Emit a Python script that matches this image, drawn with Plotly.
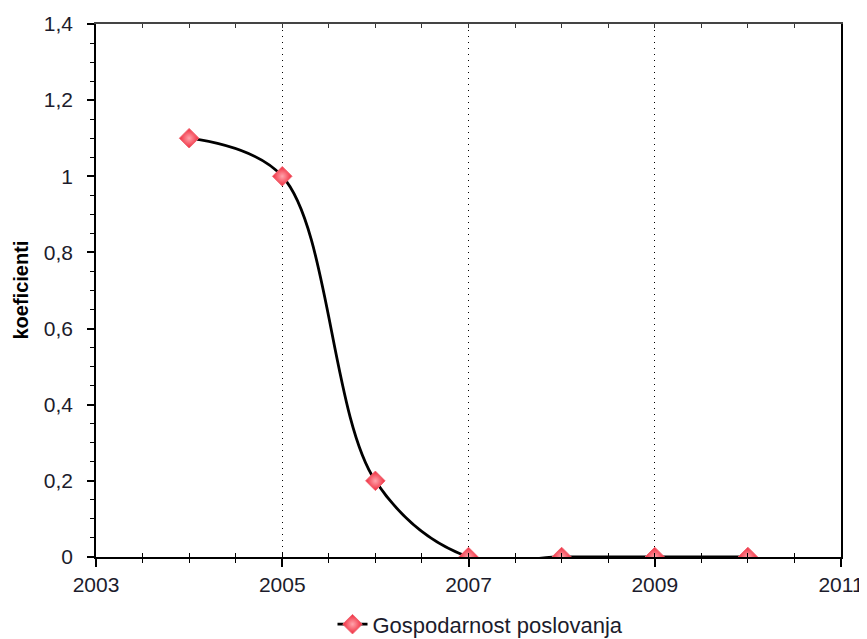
import plotly.graph_objects as go

years = [2004, 2005, 2006, 2007, 2008, 2009, 2010]
values = [1.1, 1.0, 0.2, 0.0, 0.0, 0.0, 0.0]
series_name = "Gospodarnost poslovanja"
y_title = "koeficienti"

FONT = "Liberation Sans, Arial, sans-serif"
TXT = "#1c1c2c"

# page body has an 8px margin, so the figure is sized/offset to compensate
W, H = 859, 631
ML, MR, MT, MB = 88, 26, 16, 82
PW = W - ML - MR
PH = H - MT - MB

fig = go.Figure()
fig.add_trace(go.Scatter(
    x=years, y=values, name=series_name, mode="lines+markers",
    line=dict(color="black", width=2.8, shape="spline", smoothing=1.0),
    marker=dict(symbol="diamond", size=15, color="#f02a3c",
                line=dict(color="#f06470", width=1),
                gradient=dict(type="radial", color="#ffa4ac")),
    cliponaxis=True,
))

# invisible helper traces for extra overlay axes
fig.add_trace(go.Scatter(x=[2003], y=[0], xaxis="x2", showlegend=False,
                         mode="markers", marker=dict(opacity=0), hoverinfo="skip"))
fig.add_trace(go.Scatter(x=[2003], y=[0], xaxis="x3", showlegend=False,
                         mode="markers", marker=dict(opacity=0), hoverinfo="skip"))

fig.update_layout(
    width=W, height=H,
    margin=dict(l=ML, r=MR, t=MT, b=MB, autoexpand=False),
    paper_bgcolor="white", plot_bgcolor="white",
    separators=", ",
    font=dict(family=FONT, size=21, color=TXT),
    showlegend=True,
    legend=dict(orientation="h", x=0.5 + 12 / PW, xanchor="center", y=-0.087,
                yanchor="top", font=dict(size=22, color=TXT)),
    xaxis=dict(range=[2003, 2011], tickmode="linear", tick0=2003, dtick=2,
               ticks="outside", ticklen=8, tickwidth=1.5, tickcolor="black",
               minor=dict(dtick=0.5, tick0=2003, ticks="outside", ticklen=4,
                          tickwidth=1.2, tickcolor="black", showgrid=False),
               showline=True, linecolor="black", linewidth=1.5,
               showgrid=True, gridcolor="black", griddash="1px,5px", gridwidth=1,
               zeroline=False, ticklabelstandoff=0, automargin=False,
               tickfont=dict(size=21, color=TXT)),
    xaxis2=dict(range=[2003, 2011], overlaying="x", side="bottom", anchor="y",
                tickmode="linear", tick0=2003, dtick=0.5, ticks="inside",
                ticklen=4, tickwidth=1.2, tickcolor="black", automargin=False,
                showticklabels=False, showgrid=False, showline=False, zeroline=False),
    xaxis3=dict(range=[2003, 2011], overlaying="x", side="top", anchor="y",
                tickmode="linear", tick0=2003, dtick=0.5, ticks="inside",
                ticklen=4, tickwidth=1.2, tickcolor="#333", automargin=False,
                showticklabels=False, showgrid=False, showline=True,
                linecolor="#444", linewidth=1.5, zeroline=False),
    yaxis=dict(range=[0, 1.4], tickmode="linear", tick0=0, dtick=0.2,
               ticks="outside", ticklen=7, tickwidth=1.5, tickcolor="black",
               minor=dict(dtick=0.05, tick0=0, ticks="outside", ticklen=4,
                          tickwidth=1.2, tickcolor="black", showgrid=False),
               showline=True, linecolor="black", linewidth=1.5,
               mirror=True, showgrid=False, zeroline=False, automargin=False,
               ticklabelstandoff=10, tickfont=dict(size=21, color=TXT)),
    annotations=[dict(text="<b>" + y_title + "</b>", textangle=-90,
                      xref="paper", yref="paper",
                      x=(12 - ML) / PW, y=0.5, xanchor="center", yanchor="middle",
                      showarrow=False, font=dict(size=20, color="black"))],
)

fig.write_html("out.html")
